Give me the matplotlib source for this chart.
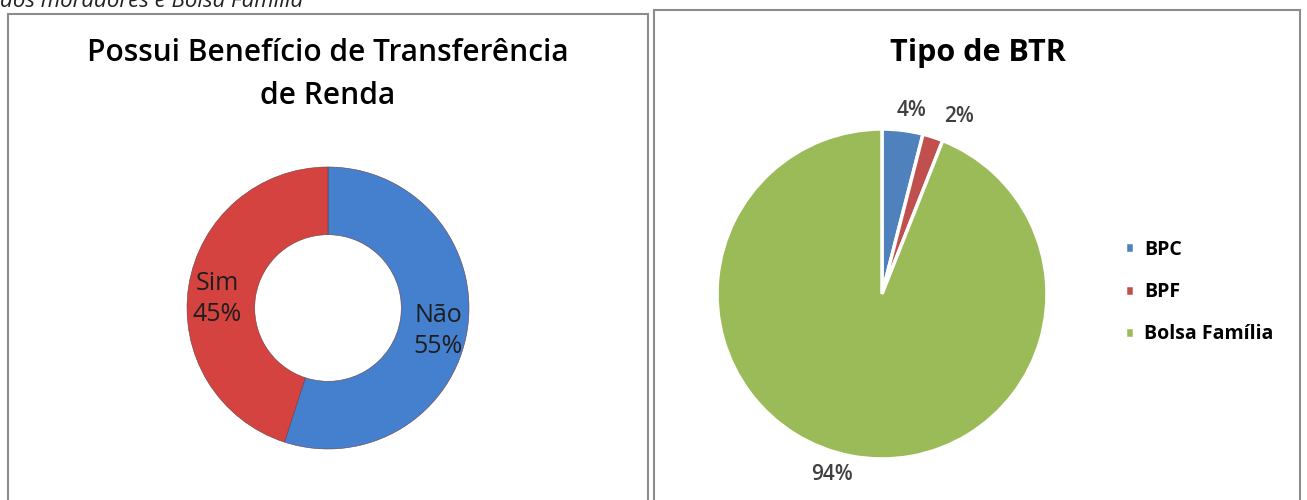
import matplotlib.pyplot as plt
from matplotlib.patches import Rectangle

W, H = 1307, 500

donut_labels = ["Não", "Sim"]
donut_values = [55, 45]
donut_colors = ["#4580CF", "#D4433F"]

pie_labels = ["BPC", "BPF", "Bolsa Família"]
pie_values = [4, 2, 94]
pie_colors = ["#4F81BD", "#C0504D", "#9BBB59"]

plt.rcParams["font.family"] = ["Open Sans", "DejaVu Sans"]


def box(cx, cy, r):
    # pixel centre/radius -> figure fraction rect
    return [(cx - r) / W, 1 - (cy + r) / H, 2 * r / W, 2 * r / H]


fig = plt.figure(figsize=(W / 100, H / 100), dpi=100)

# panel frames
for x0, y0, x1 in [(8, 14, 648), (654, 10, 1300)]:
    fig.patches.append(Rectangle((x0 / W, -0.1), (x1 - x0) / W, 1.1 - y0 / H,
                                 transform=fig.transFigure, fill=False,
                                 edgecolor="#8c8c8c", linewidth=1.5))

fig.text(0.0, 1 - 7 / H, "dos moradores e Bolsa Família", fontsize=16,
         style="italic", va="baseline", ha="left", color="#222222")

# left: donut
fig.text(328 / W, 1 - 53 / H, "Possui Benefício de Transferência", fontsize=21.5,
         fontweight="semibold", ha="center", va="center")
fig.text(328 / W, 1 - 96 / H, "de Renda", fontsize=21.5,
         fontweight="semibold", ha="center", va="center")

ax1 = fig.add_axes(box(328, 308, 141))
ax1.pie(donut_values, colors=donut_colors, startangle=90, counterclock=False,
        radius=1, wedgeprops=dict(width=0.48, edgecolor="#6a4040", linewidth=0.4))
ax1.set_xlim(-1, 1)
ax1.set_ylim(-1, 1)
ax1.set_aspect("equal")
ax1.axis("off")
for lab, val, (tx, ty) in zip(donut_labels, donut_values, [(438, 331), (217, 299)]):
    fig.text(tx / W, 1 - ty / H, f"{lab}\n{val}%", fontsize=18, ha="center",
             va="center", color="#1e1e1e", linespacing=1.3)

# right: pie
fig.text(978 / W, 1 - 53 / H, "Tipo de BTR", fontsize=22,
         fontweight="bold", ha="center", va="center")

ax2 = fig.add_axes(box(882, 294, 165))
wedges, _ = ax2.pie(pie_values, colors=pie_colors, startangle=90, counterclock=False,
                    radius=1, wedgeprops=dict(edgecolor="white", linewidth=2.5))
ax2.set_xlim(-1, 1)
ax2.set_ylim(-1, 1)
ax2.set_aspect("equal")
ax2.axis("off")
for val, (tx, ty) in zip(pie_values, [(912, 110), (959, 117), (832, 475)]):
    fig.text(tx / W, 1 - ty / H, f"{val}%", fontsize=15, fontweight="semibold",
             ha="center", va="center", color="#404040")

fig.legend(wedges, pie_labels, loc="center left",
           bbox_to_anchor=(1107 / W, 1 - 292 / H), frameon=False,
           prop=dict(size=14, weight="bold"), handlelength=0.5, handleheight=0.5,
           handletextpad=0.5, labelspacing=1.15)

fig.savefig("out.png", dpi=100)
